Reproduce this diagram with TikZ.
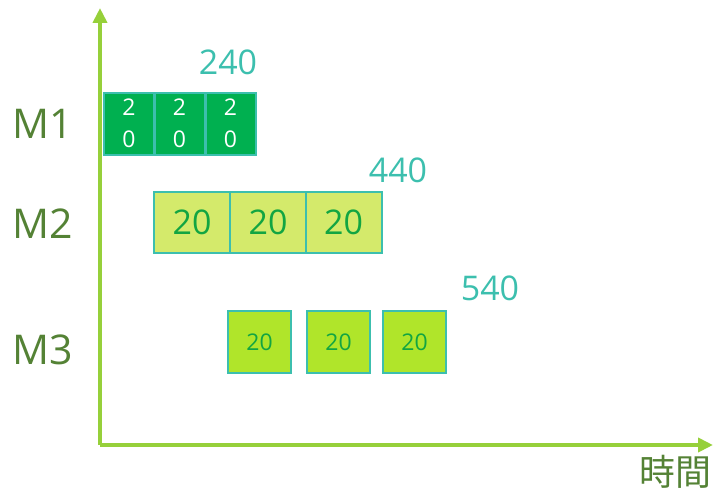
\documentclass[tikz,border=0pt]{standalone}
\usepackage{fontspec}
\setmainfont{Open Sans}
\newfontfamily\cjkfont{Noto Sans CJK TC}
\usetikzlibrary{arrows.meta,positioning}
\definecolor{axisgreen}{HTML}{96D03A}
\definecolor{labelgreen}{HTML}{548235}
\definecolor{tealtext}{HTML}{3CBFAE}
\definecolor{darkfill}{HTML}{00B050}
\definecolor{lightfill}{HTML}{D4EA6B}
\definecolor{limefill}{HTML}{B0E52A}
\definecolor{numgreen}{HTML}{12A542}
\tikzset{
  job/.style={draw=tealtext, line width=2pt, inner sep=0pt},
  mlabel/.style={text=labelgreen, font=\fontsize{41}{44}\selectfont},
  total/.style={text=tealtext, font=\fontsize{34}{38}\selectfont},
}
\begin{document}
\begin{tikzpicture}[x=1pt, y=-1pt]
\useasboundingbox (0,0) rectangle (715,495);
% axes
\coordinate (o) at (100,445);
\coordinate (ytop) at (100,8);
\coordinate (xend) at (713,445);
\draw[axisgreen, line width=4pt, -{Triangle[length=15pt,width=14pt]}] (o) -- (ytop);
\draw[axisgreen, line width=4pt, -{Triangle[length=15pt,width=14pt]}] (o) -- (xend);
\node[text=labelgreen, font=\cjkfont\fontsize{36}{40}\selectfont] (time) at (675,472) {時間};
% machine labels
\node[mlabel] (m1) at (43,124) {M1};
\node[mlabel] (m2) at (43,224) {M2};
\node[mlabel] (m3) at (43,350) {M3};
% M1 jobs
\foreach \cx [count=\i] in {129,179.5,230.5}
  \node[job, fill=darkfill, text=white, minimum width=50pt, minimum height=62pt, align=center,
        font=\fontsize{23}{32}\selectfont] (ma\i) at (\cx,123.5) {2\\0};
\node[total] (t1) at (228,62) {240};
% M2 jobs
\foreach \cx [count=\i] in {192,268,343.5}
  \node[job, fill=lightfill, text=numgreen, minimum width=76pt, minimum height=61pt,
        font=\fontsize{34}{38}\selectfont] (mb\i) at (\cx,222.5) {20};
\node[total] (t2) at (398,170) {440};
% M3 jobs
\foreach \cx [count=\i] in {259.5,338.5,414.5}
  \node[job, fill=limefill, text=numgreen, minimum width=63pt, minimum height=62pt,
        font=\fontsize{23}{26}\selectfont] (mc\i) at (\cx,342) {20};
\node[total] (t3) at (490,288) {540};
\end{tikzpicture}
\end{document}
